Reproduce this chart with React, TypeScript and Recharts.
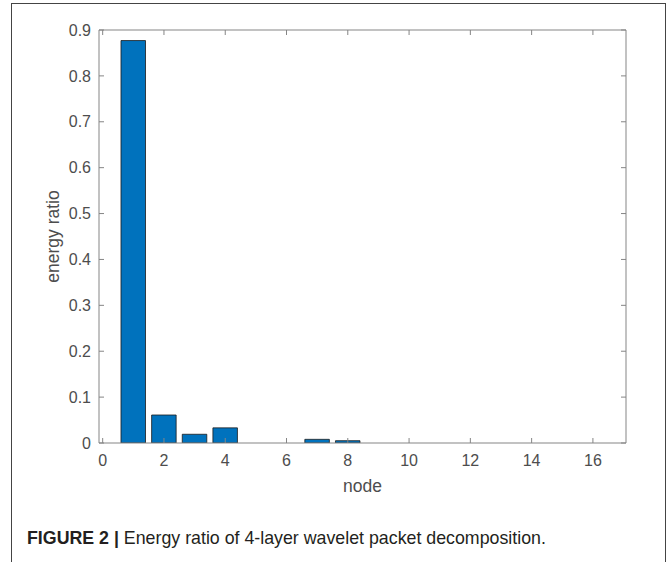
import { BarChart, Bar, XAxis, YAxis, Label } from 'recharts'

// energy ratio per wavelet packet node (4 layers -> 16 nodes)
const nodes = [1, 2, 3, 4, 5, 6, 7, 8, 9, 10, 11, 12, 13, 14, 15, 16]
const energyRatio = [0.877, 0.061, 0.019, 0.033, 0, 0, 0.008, 0.005, 0, 0, 0, 0, 0, 0, 0, 0]
const xTicks = [0, 2, 4, 6, 8, 10, 12, 14, 16]
const yTicks = [0, 0.1, 0.2, 0.3, 0.4, 0.5, 0.6, 0.7, 0.8, 0.9]

const data = nodes.map((n, i) => ({ node: n, ratio: energyRatio[i] }))

const X_DOMAIN: [number, number] = [-0.12, 17.08]
const Y_DOMAIN: [number, number] = [0, 0.9]

const FONT = '"Liberation Sans", Arial, Helvetica, sans-serif'
const AXIS_COLOR = '#858585'
const TEXT_COLOR = '#4d4d4d'

const W = 667
const CHART_H = 500
const margin = { top: 29, right: 40, left: 49, bottom: 0 }
const Y_AXIS_W = 50
const X_AXIS_H = 57
const plotW = W - margin.left - margin.right - Y_AXIS_W - 1
const barSize = (0.8 * plotW) / (X_DOMAIN[1] - X_DOMAIN[0])

const tickStyle = { fill: TEXT_COLOR, fontSize: 16, fontFamily: FONT }
const labelStyle = { fill: TEXT_COLOR, fontSize: 17.5, fontFamily: FONT }

export default function App() {
    return (
        <div style={{ position: 'absolute', left: 0, top: 0, width: W, height: 562, overflow: 'hidden', background: '#fff' }}>
            <div style={{ position: 'absolute', left: 11, top: 3, width: 655, height: 620, border: '1.5px solid #444', boxSizing: 'border-box' }} />
            <div style={{ position: 'absolute', left: 0, top: 0 }}>
                <BarChart width={W} height={CHART_H} data={data} margin={margin} style={{ fontFamily: FONT }}>
                    <XAxis
                        xAxisId="bottom"
                        dataKey="node"
                        type="number"
                        domain={X_DOMAIN}
                        ticks={xTicks}
                        allowDataOverflow
                        height={X_AXIS_H}
                        tickSize={-5}
                        tickMargin={17}
                        tick={tickStyle}
                        axisLine={{ stroke: AXIS_COLOR }}
                        tickLine={{ stroke: AXIS_COLOR }}
                    >
                        <Label value="node" position="insideBottom" offset={8} style={labelStyle} />
                    </XAxis>
                    <XAxis
                        xAxisId="top"
                        orientation="top"
                        type="number"
                        dataKey="node"
                        domain={X_DOMAIN}
                        ticks={xTicks}
                        allowDataOverflow
                        height={1}
                        tickSize={-5}
                        tickFormatter={() => ''}
                        axisLine={{ stroke: AXIS_COLOR }}
                        tickLine={{ stroke: AXIS_COLOR }}
                    />
                    <YAxis
                        yAxisId="left"
                        type="number"
                        domain={Y_DOMAIN}
                        ticks={yTicks}
                        allowDataOverflow
                        width={Y_AXIS_W}
                        tickSize={-5}
                        tickMargin={13}
                        tick={tickStyle}
                        tickFormatter={v => String(v)}
                        axisLine={{ stroke: AXIS_COLOR }}
                        tickLine={{ stroke: AXIS_COLOR }}
                    >
                        <Label value="energy ratio" angle={-90} position="insideLeft" offset={4}
                            style={{ ...labelStyle, textAnchor: 'middle' }} />
                    </YAxis>
                    <YAxis
                        yAxisId="right"
                        orientation="right"
                        type="number"
                        domain={Y_DOMAIN}
                        ticks={yTicks}
                        allowDataOverflow
                        width={1}
                        tickSize={-5}
                        tickFormatter={() => ''}
                        axisLine={{ stroke: AXIS_COLOR }}
                        tickLine={{ stroke: AXIS_COLOR }}
                    />
                    <Bar
                        xAxisId="bottom"
                        yAxisId="left"
                        dataKey="ratio"
                        barSize={barSize}
                        fill="#0072BD"
                        stroke="#1b1b1b"
                        strokeWidth={0.8}
                        isAnimationActive={false}
                    />
                </BarChart>
            </div>
            <div style={{ position: 'absolute', left: 27, top: 530, fontFamily: FONT, fontSize: 17.8, lineHeight: 1, color: '#231f20', whiteSpace: 'nowrap' }}>
                <b>FIGURE 2 |</b> Energy ratio of 4-layer wavelet packet decomposition.
            </div>
        </div>
    )
}
